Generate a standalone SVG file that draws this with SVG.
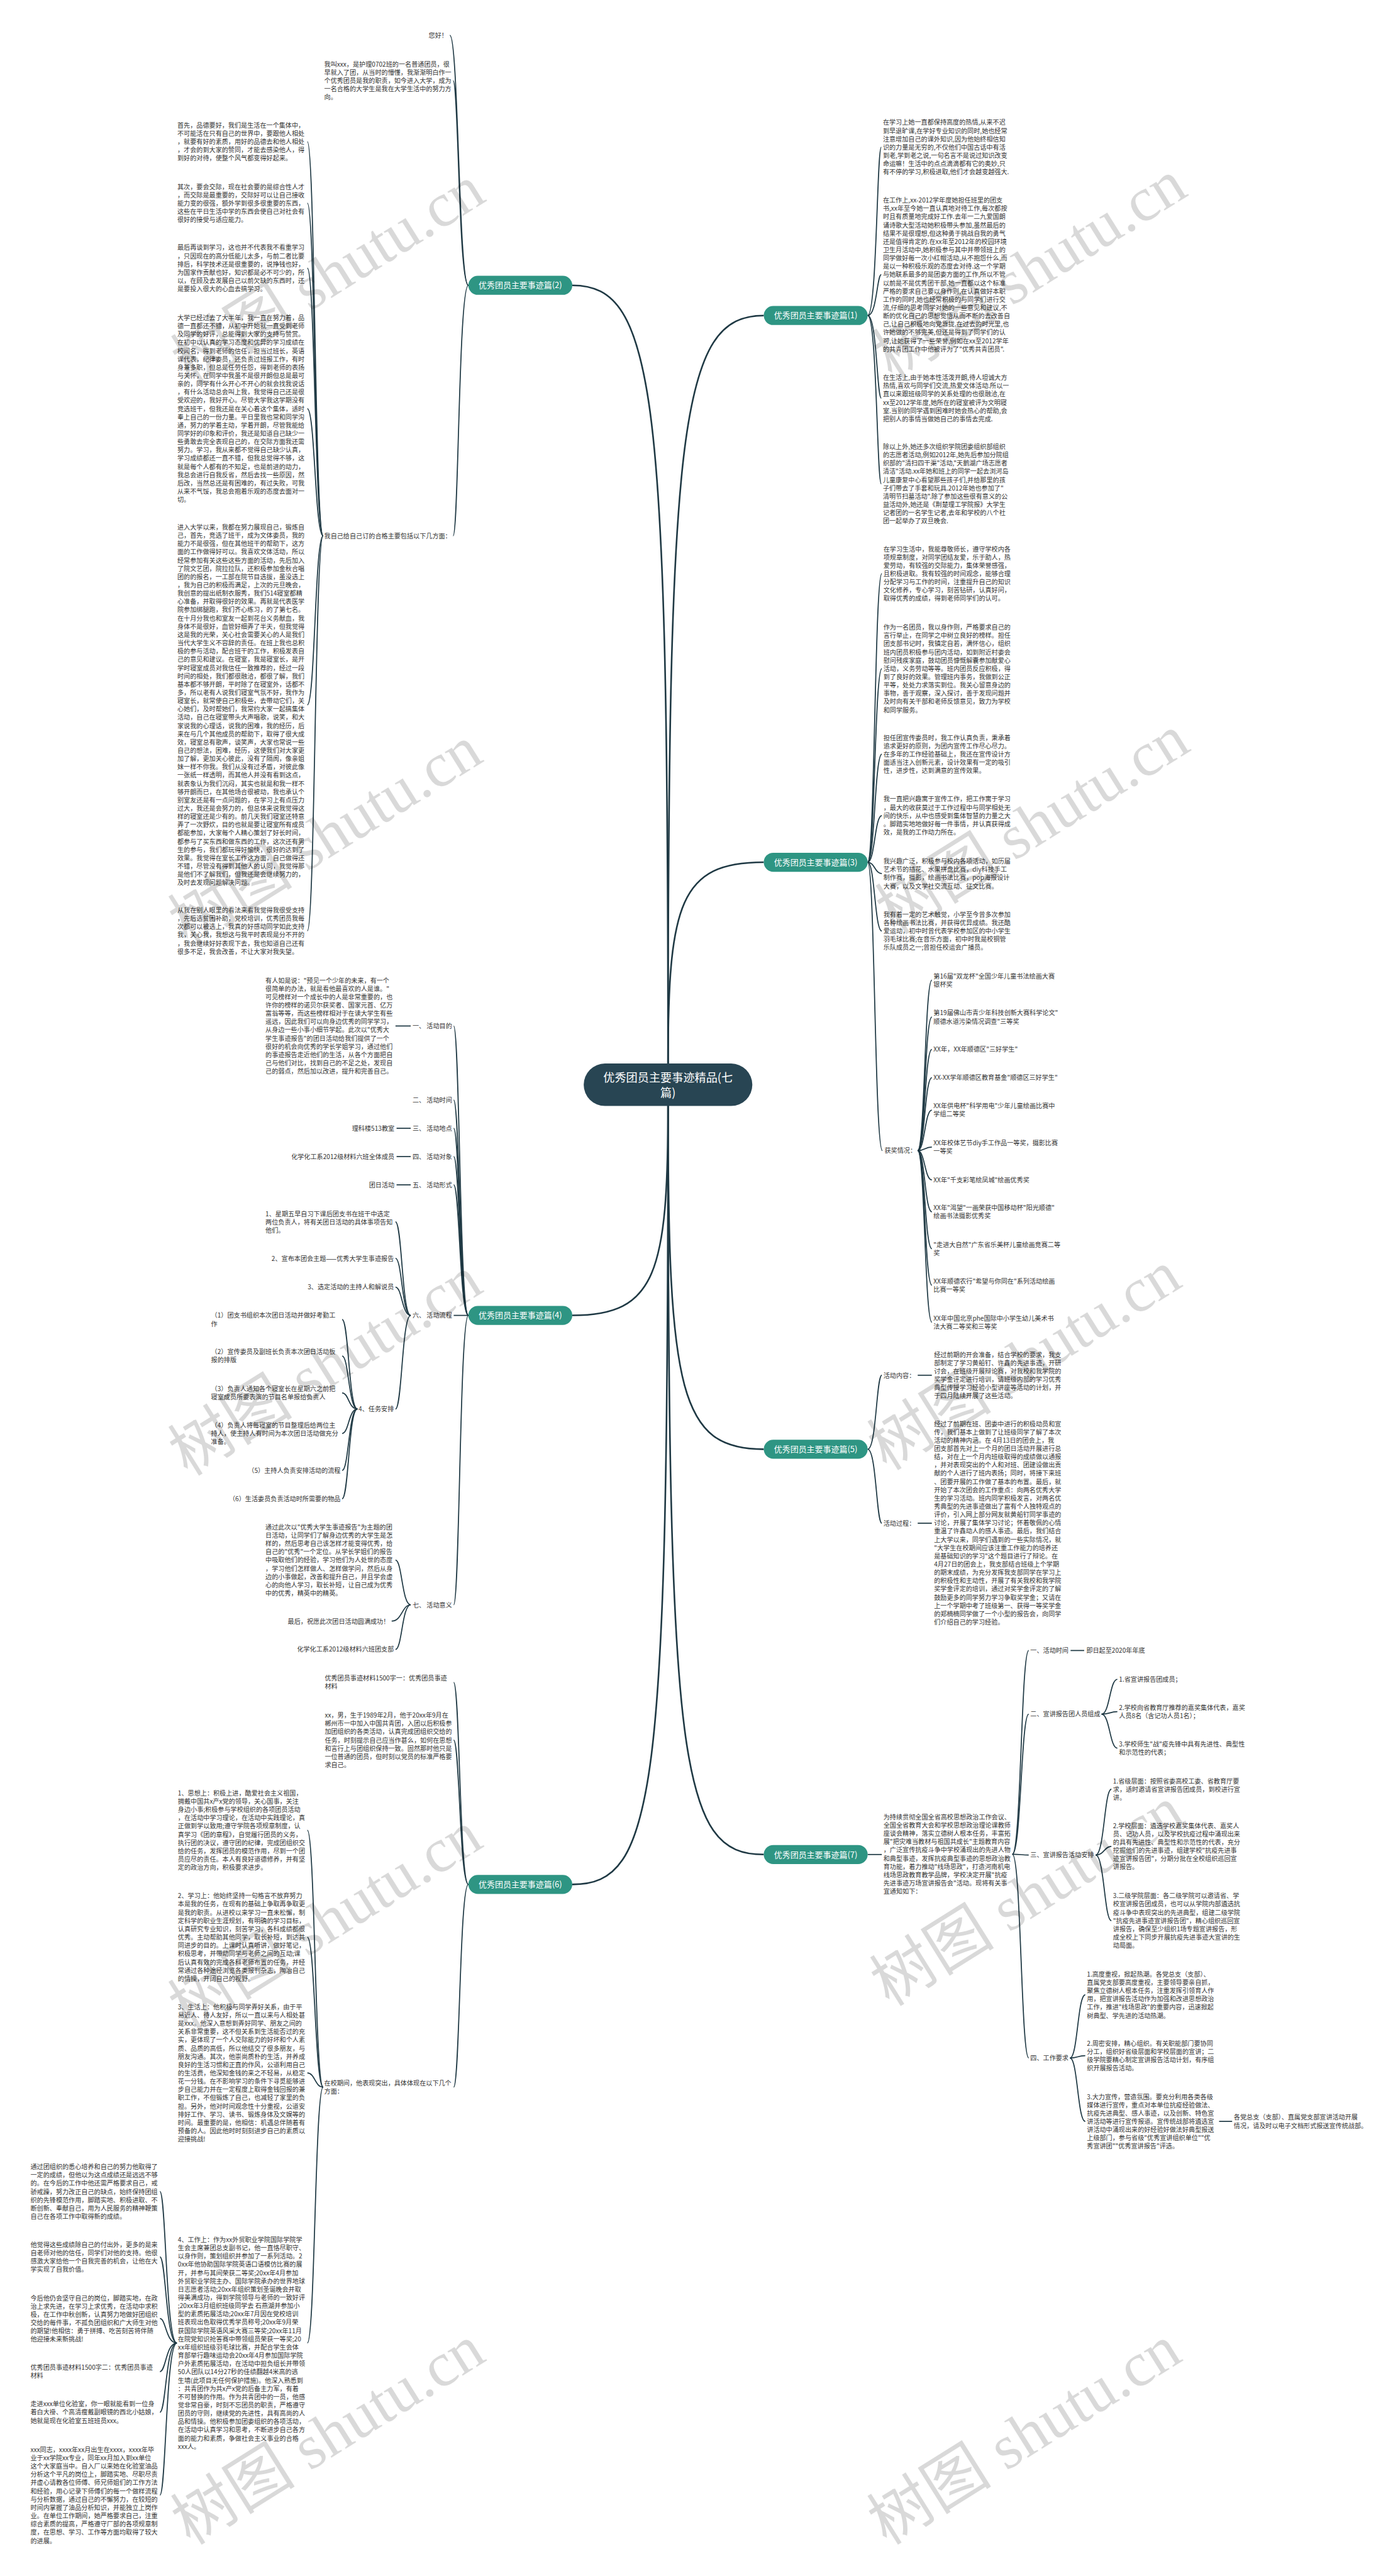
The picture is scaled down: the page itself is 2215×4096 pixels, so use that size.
<svg xmlns="http://www.w3.org/2000/svg" width="2215" height="4096" viewBox="0 0 2215 4096">
<style>
.t{font-family:"Noto Sans CJK SC","Noto Sans",sans-serif;font-size:11.7px;fill:#333}
.e{text-anchor:end}
.p{fill:#2e9583}
.pt{font-family:"Noto Sans CJK SC","Noto Sans",sans-serif;font-size:15px;fill:#fff;text-anchor:middle}
.ct{font-family:"Noto Sans CJK SC","Noto Sans",sans-serif;font-size:21px;fill:#fff;text-anchor:middle}
.l{fill:none;stroke:#1f3944;stroke-width:2}
.m{fill:none;stroke:#1f3944;stroke-width:3}
.wm{font-family:"Liberation Serif","Noto Sans CJK SC",serif;font-size:115px;fill:#000;fill-opacity:.15}
</style>
<rect width="2215" height="4096" fill="#fff"/>
<g transform="scale(0.865)">
<g id="connectors">
<path class="m" d="M1228,1957 C1228,780 1250,580 1404,580"/>
<path class="m" d="M1228,1957 C1228,724 1206,524.5 1052,524.5"/>
<path class="m" d="M1228,1957 C1228,1660 1250,1585 1404,1585"/>
<path class="m" d="M1228,2032 C1228,2340 1206,2418 1052,2418"/>
<path class="m" d="M1228,2032 C1228,2560 1250,2664 1404,2664"/>
<path class="m" d="M1228,2032 C1228,3300 1206,3464 1052,3464"/>
<path class="m" d="M1228,2032 C1228,3250 1250,3409 1404,3409"/>
<path class="l" d="M1595,580 C1612,580 1612,270.6 1620,270.6"/>
<path class="l" d="M1595,580 C1612,580 1612,504.8 1620,504.8"/>
<path class="l" d="M1595,580 C1612,580 1612,732 1620,732"/>
<path class="l" d="M1595,580 C1612,580 1612,889.4 1620,889.4"/>
<path class="l" d="M1595,1585 C1608,1585 1608,1054.6 1621,1054.6"/>
<path class="l" d="M1595,1585 C1608,1585 1608,1229 1621,1229"/>
<path class="l" d="M1595,1585 C1608,1585 1608,1386.4 1621,1386.4"/>
<path class="l" d="M1595,1585 C1608,1585 1608,1499.4 1621,1499.4"/>
<path class="l" d="M1595,1585 C1608,1585 1608,1605.8 1621,1605.8"/>
<path class="l" d="M1595,1585 C1608,1585 1608,1711.4 1621,1711.4"/>
<path class="l" d="M1595,1585 C1608,1585 1608,2115 1622,2115"/>
<path class="l" d="M1687,2115 C1700,2115 1700,1801.5 1713,1801.5"/>
<path class="l" d="M1687,2115 C1700,2115 1700,1869.5 1713,1869.5"/>
<path class="l" d="M1687,2115 C1700,2115 1700,1929 1713,1929"/>
<path class="l" d="M1687,2115 C1700,2115 1700,1981 1713,1981"/>
<path class="l" d="M1687,2115 C1700,2115 1700,2040.5 1713,2040.5"/>
<path class="l" d="M1687,2115 C1700,2115 1700,2108.5 1713,2108.5"/>
<path class="l" d="M1687,2115 C1700,2115 1700,2169 1713,2169"/>
<path class="l" d="M1687,2115 C1700,2115 1700,2227.5 1713,2227.5"/>
<path class="l" d="M1687,2115 C1700,2115 1700,2295.5 1713,2295.5"/>
<path class="l" d="M1687,2115 C1700,2115 1700,2362.5 1713,2362.5"/>
<path class="l" d="M1687,2115 C1700,2115 1700,2430.5 1713,2430.5"/>
<path class="l" d="M1595,2664 C1611,2664 1611,2528 1621,2528"/>
<path class="l" d="M1595,2664 C1611,2664 1611,2800 1621,2800"/>
<path class="l" d="M1687,2528 H1713"/>
<path class="l" d="M1687,2800 H1713"/>
<path class="l" d="M1595,3409 H1621"/>
<path class="l" d="M1861,3408.4 C1877,3408.4 1877,3034 1891,3034"/>
<path class="l" d="M1861,3408.4 C1877,3408.4 1877,3151 1891,3151"/>
<path class="l" d="M1861,3408.4 C1877,3408.4 1877,3410 1891,3410"/>
<path class="l" d="M1861,3408.4 C1877,3408.4 1877,3783 1891,3783"/>
<path class="l" d="M1968,3034 H1993"/>
<path class="l" d="M2025,3151 C2040,3151 2040,3087 2054,3087"/>
<path class="l" d="M2025,3151 C2040,3151 2040,3146.5 2054,3146.5"/>
<path class="l" d="M2025,3151 C2040,3151 2040,3213.5 2054,3213.5"/>
<path class="l" d="M2014,3410 C2030,3410 2030,3289 2043,3289"/>
<path class="l" d="M2014,3410 C2030,3410 2030,3394 2043,3394"/>
<path class="l" d="M2014,3410 C2030,3410 2030,3530.6 2043,3530.6"/>
<path class="l" d="M1967,3783 C1981,3783 1981,3667 1995,3667"/>
<path class="l" d="M1967,3783 C1981,3783 1981,3778.8 1995,3778.8"/>
<path class="l" d="M1967,3783 C1981,3783 1981,3899.6 1995,3899.6"/>
<path class="l" d="M2241,3899.6 H2265"/>
<path class="l" d="M861,524.5 C843,524.5 843,65 827,65"/>
<path class="l" d="M861,524.5 C843,524.5 843,148.4 833,148.4"/>
<path class="l" d="M861,524.5 C843,524.5 843,985 833,985"/>
<path class="l" d="M594,985 C579,985 579,260.4 565,260.4"/>
<path class="l" d="M594,985 C579,985 579,373.4 565,373.4"/>
<path class="l" d="M594,985 C579,985 579,493 565,493"/>
<path class="l" d="M594,985 C579,985 579,751.2 565,751.2"/>
<path class="l" d="M594,985 C579,985 579,1295.8 565,1295.8"/>
<path class="l" d="M594,985 C579,985 579,1711 565,1711"/>
<path class="l" d="M861,2418 C845,2418 845,1886 834,1886"/>
<path class="l" d="M861,2418 C845,2418 845,2022 834,2022"/>
<path class="l" d="M861,2418 C845,2418 845,2074 834,2074"/>
<path class="l" d="M861,2418 C845,2418 845,2126 834,2126"/>
<path class="l" d="M861,2418 C845,2418 845,2178 834,2178"/>
<path class="l" d="M861,2418 H834"/>
<path class="l" d="M861,2418 C845,2418 845,2950 834,2950"/>
<path class="l" d="M755,1886 H727"/>
<path class="l" d="M755,2074 H729"/>
<path class="l" d="M755,2126 H729"/>
<path class="l" d="M755,2178 H729"/>
<path class="l" d="M755,2418 C739,2418 739,2246 727,2246"/>
<path class="l" d="M755,2418 C739,2418 739,2313 727,2313"/>
<path class="l" d="M755,2418 C739,2418 739,2366 727,2366"/>
<path class="l" d="M755,2418 C739,2418 739,2590 727,2590"/>
<path class="l" d="M657,2590 C641,2590 641,2425.6 629,2425.6"/>
<path class="l" d="M657,2590 C641,2590 641,2492.6 629,2492.6"/>
<path class="l" d="M657,2590 C641,2590 641,2560.6 629,2560.6"/>
<path class="l" d="M657,2590 C641,2590 641,2635 629,2635"/>
<path class="l" d="M657,2590 C641,2590 641,2703 629,2703"/>
<path class="l" d="M657,2590 C641,2590 641,2755 629,2755"/>
<path class="l" d="M755,2950 C739,2950 739,2867.8 727,2867.8"/>
<path class="l" d="M755,2950 C739,2950 739,2980 720,2980"/>
<path class="l" d="M755,2950 C739,2950 739,3032 727,3032"/>
<path class="l" d="M861,3464 C845,3464 845,3092.6 834,3092.6"/>
<path class="l" d="M861,3464 C845,3464 845,3198.6 834,3198.6"/>
<path class="l" d="M861,3464 C845,3464 845,3836.6 834,3836.6"/>
<path class="l" d="M594,3836.6 C579,3836.6 579,3364.4 565,3364.4"/>
<path class="l" d="M594,3836.6 C579,3836.6 579,3561 565,3561"/>
<path class="l" d="M594,3836.6 C579,3836.6 579,3810.6 565,3810.6"/>
<path class="l" d="M594,3836.6 C579,3836.6 579,4307 565,4307"/>
<path class="l" d="M325,4307 C305,4307 305,4028.6 294,4028.6"/>
<path class="l" d="M325,4307 C305,4307 305,4148.8 294,4148.8"/>
<path class="l" d="M325,4307 C305,4307 305,4262 294,4262"/>
<path class="l" d="M325,4307 C305,4307 305,4359.6 294,4359.6"/>
<path class="l" d="M325,4307 C305,4307 305,4434.2 294,4434.2"/>
<path class="l" d="M325,4307 C305,4307 305,4586.6 294,4586.6"/>
</g>

<g id="center">
<rect x="1073" y="1955" width="310" height="78" rx="39" fill="#284553"/>
<text class="ct" x="1228" y="1988">优秀团员主要事迹精品(七</text>
<text class="ct" x="1228" y="2016">篇)</text>
</g>

<g id="branch1">
<rect class="p" x="1404" y="562.5" width="191" height="35" rx="17.5"/>
<text class="pt" x="1499.5" y="585.5">优秀团员主要事迹篇(1)</text>
<text class="t" x="1623" y="229.4"><tspan x="1623">在学习上她一直都保持高度的热情,从来不迟</tspan><tspan x="1623" dy="15.2">到早退旷课,在学好专业知识的同时,她也经常</tspan><tspan x="1623" dy="15.2">注意增加自己的课外知识,因为他始终相信知</tspan><tspan x="1623" dy="15.2">识的力量是无穷的,不仅他们中国古话中有活</tspan><tspan x="1623" dy="15.2">到老,学到老之说,一句名言不是说过知识改变</tspan><tspan x="1623" dy="15.2">命运嘛！生活中的点点滴滴都有它的奥妙,只</tspan><tspan x="1623" dy="15.2">有不停的学习,积极进取,他们才会越变越强大.</tspan></text>
<text class="t" x="1623" y="372.4"><tspan x="1623">在工作上,xx-2012学年度她担任班里的团支</tspan><tspan x="1623" dy="15.2">书,xx年至今她一直认真地对待工作,每次都按</tspan><tspan x="1623" dy="15.2">时且有质量地完成好工作.去年一二九爱国朗</tspan><tspan x="1623" dy="15.2">诵诗歌大型活动她积极带头参加,虽然最后的</tspan><tspan x="1623" dy="15.2">结果不是很理想,但这种勇于挑战自我的勇气</tspan><tspan x="1623" dy="15.2">还是值得肯定的.在xx年至2012年的校园环境</tspan><tspan x="1623" dy="15.2">卫生月活动中,她积极参与其中并带领班上的</tspan><tspan x="1623" dy="15.2">同学做好每一次小红帽活动,从不抱怨什么,而</tspan><tspan x="1623" dy="15.2">是以一种积极乐观的态度去对待.这一个学期</tspan><tspan x="1623" dy="15.2">与她联系最多的是团委方面的工作,所以不管</tspan><tspan x="1623" dy="15.2">以前是不是优秀团干部,她一直都以这个标准</tspan><tspan x="1623" dy="15.2">严格的要求自己要以身作则,在认真做好本职</tspan><tspan x="1623" dy="15.2">工作的同时,她也经常积极的与同学们进行交</tspan><tspan x="1623" dy="15.2">流,仔细的思考同学对她的一些意见和建议,不</tspan><tspan x="1623" dy="15.2">断的优化自己的思想觉悟从而不断的去改善自</tspan><tspan x="1623" dy="15.2">己,让自己积极地向党靠拢.在过去的时光里,也</tspan><tspan x="1623" dy="15.2">许她做的不够完美,但还是得到了同学们的认</tspan><tspan x="1623" dy="15.2">可,让她获得了一些荣誉,例如在xx至2012学年</tspan><tspan x="1623" dy="15.2">的共青团工作中他被评为了"优秀共青团员".</tspan></text>
<text class="t" x="1623" y="698.4"><tspan x="1623">在生活上,由于她本性活泼开朗,待人坦诚大方</tspan><tspan x="1623" dy="15.2">热情,喜欢与同学们交流,热爱文体活动.所以一</tspan><tspan x="1623" dy="15.2">直以来跟班级同学的关系处理的也很融洽,在</tspan><tspan x="1623" dy="15.2">xx至2012学年度,她所在的寝室被评为文明寝</tspan><tspan x="1623" dy="15.2">室.当别的同学遇到困难时她会热心的帮助,会</tspan><tspan x="1623" dy="15.2">把别人的事情当做她自己的事情去完成.</tspan></text>
<text class="t" x="1623" y="825.4"><tspan x="1623">除以上外,她还多次组织学院团委组织部组织</tspan><tspan x="1623" dy="15.2">的志愿者活动,例如2012年,她先后参加分院组</tspan><tspan x="1623" dy="15.2">织部的"清扫四干渠"活动,"天鹅湖广场志愿者</tspan><tspan x="1623" dy="15.2">清洁"活动.xx年她和班上的同学一起去浏河岛</tspan><tspan x="1623" dy="15.2">儿童康复中心看望那些孩子们,并给那里的孩</tspan><tspan x="1623" dy="15.2">子们带去了手套和玩具.2012年她也参加了"</tspan><tspan x="1623" dy="15.2">清明节扫墓活动".除了参加这些很有意义的公</tspan><tspan x="1623" dy="15.2">益活动外,她还是《荆楚理工学院报》大学生</tspan><tspan x="1623" dy="15.2">记者团的一名学生记者,去年和学校的八个社</tspan><tspan x="1623" dy="15.2">团一起举办了双旦晚会.</tspan></text>
</g>

<g id="branch3">
<rect class="p" x="1404" y="1567.5" width="191" height="35" rx="17.5"/>
<text class="pt" x="1499.5" y="1590.5">优秀团员主要事迹篇(3)</text>
<text class="t" x="1624" y="1013.4"><tspan x="1624">在学习生活中，我能尊敬师长，遵守学校内各</tspan><tspan x="1624" dy="15.2">项规章制度，对同学团结友爱，乐于助人，热</tspan><tspan x="1624" dy="15.2">爱劳动，有较强的交际能力，集体荣誉感强，</tspan><tspan x="1624" dy="15.2">且积极进取。我有较强的时间观念，能够合理</tspan><tspan x="1624" dy="15.2">分配学习与工作的时间，注重提升自己的知识</tspan><tspan x="1624" dy="15.2">文化修养，专心学习，刻苦钻研，认真好问，</tspan><tspan x="1624" dy="15.2">取得优秀的成绩，得到老师同学们的认可。</tspan></text>
<text class="t" x="1624" y="1157.4"><tspan x="1624">作为一名团员，我以身作则，严格要求自己的</tspan><tspan x="1624" dy="15.2">言行举止，在同学之中树立良好的榜样。担任</tspan><tspan x="1624" dy="15.2">团支部书记时，我镇定自若，满怀信心，组织</tspan><tspan x="1624" dy="15.2">班内团员积极参与团内活动，如到附近村委会</tspan><tspan x="1624" dy="15.2">慰问残疾家庭，鼓动团员慷慨解囊参加献爱心</tspan><tspan x="1624" dy="15.2">活动，义务劳动等等。班内团员反应积极，得</tspan><tspan x="1624" dy="15.2">到了良好的效果。管理班内事务，我做到公正</tspan><tspan x="1624" dy="15.2">平等，处处力求落实到位。我关心留意身边的</tspan><tspan x="1624" dy="15.2">事物，善于观察，深入探讨，善于发现问题并</tspan><tspan x="1624" dy="15.2">及时向有关干部和老师反馈意见，致力为学校</tspan><tspan x="1624" dy="15.2">和同学服务。</tspan></text>
<text class="t" x="1624" y="1360.4"><tspan x="1624">担任团宣传委员时，我工作认真负责，秉承着</tspan><tspan x="1624" dy="15.2">追求更好的原则，为团内宣传工作尽心尽力。</tspan><tspan x="1624" dy="15.2">在多年的工作经验基础上，我还在宣传设计方</tspan><tspan x="1624" dy="15.2">面适当注入创新元素，设计效果有一定的吸引</tspan><tspan x="1624" dy="15.2">性，进步性，达到满意的宣传效果。</tspan></text>
<text class="t" x="1624" y="1473.4"><tspan x="1624">我一直把兴趣寓于宣传工作，把工作寓于学习</tspan><tspan x="1624" dy="15.2">，最大的收获莫过于工作过程中与同学相处无</tspan><tspan x="1624" dy="15.2">间的快乐，从中也感受到集体智慧的力量之大</tspan><tspan x="1624" dy="15.2">。脚踏实地地做好每一件事情，并认真获得成</tspan><tspan x="1624" dy="15.2">效，是我的工作动力所在。</tspan></text>
<text class="t" x="1624" y="1587.4"><tspan x="1624">我兴趣广泛，积极参与校内各项活动，如历届</tspan><tspan x="1624" dy="15.2">艺术节的插花、水果拼盘比赛，diy科技手工</tspan><tspan x="1624" dy="15.2">制作赛，摄影，绘画书法比赛，pop海报设计</tspan><tspan x="1624" dy="15.2">大赛，以及文学社交流互动、征文比赛。</tspan></text>
<text class="t" x="1624" y="1685.4"><tspan x="1624">我有着一定的艺术触觉，小学至今曾多次参加</tspan><tspan x="1624" dy="15.2">各种绘画书法比赛，并获得优异成绩。我还酷</tspan><tspan x="1624" dy="15.2">爱运动，初中时曾代表学校参加区的中小学生</tspan><tspan x="1624" dy="15.2">羽毛球比赛;在音乐方面，初中时我是校铜管</tspan><tspan x="1624" dy="15.2">乐队成员之一;曾担任校运会广播员。</tspan></text>
<text class="t" x="1626" y="2119.4">获奖情况：</text>
<text class="t" x="1716" y="1798.4"><tspan x="1716">第16届"双龙杯"全国少年儿童书法绘画大赛</tspan><tspan x="1716" dy="15.2">银杯奖</tspan></text>
<text class="t" x="1716" y="1866.4"><tspan x="1716">第19届佛山市青少年科技创新大赛科学论文"</tspan><tspan x="1716" dy="15.2">顺德水道污染情况调查"三等奖</tspan></text>
<text class="t" x="1716" y="1933.4">XX年，XX年顺德区"三好学生"</text>
<text class="t" x="1716" y="1985.4">XX-XX学年顺德区教育基金"顺德区三好学生"</text>
<text class="t" x="1716" y="2037.4"><tspan x="1716">XX年供电杯"科学用电"少年儿童绘画比赛中</tspan><tspan x="1716" dy="15.2">学组二等奖</tspan></text>
<text class="t" x="1716" y="2105.4"><tspan x="1716">XX年校体艺节diy手工作品一等奖，摄影比赛</tspan><tspan x="1716" dy="15.2">一等奖</tspan></text>
<text class="t" x="1716" y="2173.4">XX年"千支彩笔绘凤城"绘画优秀奖</text>
<text class="t" x="1716" y="2224.4"><tspan x="1716">XX年"渴望"一画荣获中国移动杯"阳光顺德"</tspan><tspan x="1716" dy="15.2">绘画书法摄影优秀奖</tspan></text>
<text class="t" x="1716" y="2292.4"><tspan x="1716">"走进大自然"广东省乐美杯儿童绘画竞赛二等</tspan><tspan x="1716" dy="15.2">奖</tspan></text>
<text class="t" x="1716" y="2359.4"><tspan x="1716">XX年顺德农行"希望与你同在"系列活动绘画</tspan><tspan x="1716" dy="15.2">比赛一等奖</tspan></text>
<text class="t" x="1716" y="2427.4"><tspan x="1716">XX年中国北京phe国际中小学生幼儿美术书</tspan><tspan x="1716" dy="15.2">法大赛二等奖和三等奖</tspan></text>
</g>

<g id="branch5">
<rect class="p" x="1404" y="2646.5" width="191" height="35" rx="17.5"/>
<text class="pt" x="1499.5" y="2669.5">优秀团员主要事迹篇(5)</text>
<text class="t" x="1624" y="2532.4">活动内容：</text>
<text class="t" x="1624" y="2804.4">活动过程：</text>
<text class="t" x="1717" y="2494.4"><tspan x="1717">经过前期的开会准备，结合学校的要求，我支</tspan><tspan x="1717" dy="15.2">部制定了学习黄船钉、许鑫的先进事迹，开研</tspan><tspan x="1717" dy="15.2">讨会，在班级开展辩论赛，对我校和我学院的</tspan><tspan x="1717" dy="15.2">奖学金评定进行培训，请班级内部的学习优秀</tspan><tspan x="1717" dy="15.2">典型传授学习经验小型讲座等活动的计划，并</tspan><tspan x="1717" dy="15.2">于四月陆续开展了这些活动。</tspan></text>
<text class="t" x="1717" y="2621.4"><tspan x="1717">经过了前期在班、团委中进行的积极动员和宣</tspan><tspan x="1717" dy="15.2">传，我们基本上做到了让班级同学了解了本次</tspan><tspan x="1717" dy="15.2">活动的精神内涵。在 4月13日的团会上，我</tspan><tspan x="1717" dy="15.2">团支部首先对上一个月的团日活动开展进行总</tspan><tspan x="1717" dy="15.2">结，对在上一个月内班级取得的成绩做以通报</tspan><tspan x="1717" dy="15.2">，并对表现突出的个人和对班、团建设做出贡</tspan><tspan x="1717" dy="15.2">献的个人进行了班内表扬；同时，将接下来班</tspan><tspan x="1717" dy="15.2">、团要开展的工作做了基本的布置。最后，就</tspan><tspan x="1717" dy="15.2">开始了本次团会的工作重点：向两名优秀大学</tspan><tspan x="1717" dy="15.2">生的学习活动。班内同学积极发言，对两名优</tspan><tspan x="1717" dy="15.2">秀典型的先进事迹做出了富有个人独特观点的</tspan><tspan x="1717" dy="15.2">评价，引入网上部分网友就黄船钉同学事迹的</tspan><tspan x="1717" dy="15.2">讨论，开展了集体学习讨论；怀着敬佩的心情</tspan><tspan x="1717" dy="15.2">重温了许鑫动人的感人事迹。最后，我们结合</tspan><tspan x="1717" dy="15.2">上大学以来，同学们遇到的一些实际情况，就</tspan><tspan x="1717" dy="15.2">"大学生在校期间应该注重工作能力的培养还</tspan><tspan x="1717" dy="15.2">是基础知识的学习"这个题目进行了辩论。在</tspan><tspan x="1717" dy="15.2">4月27日的团会上，我支部结合班级上个学期</tspan><tspan x="1717" dy="15.2">的期末成绩，为充分发挥我支部同学在学习上</tspan><tspan x="1717" dy="15.2">的积极性和主动性，开展了有关我校和我学院</tspan><tspan x="1717" dy="15.2">奖学金评定的培训，通过对奖学金评定的了解</tspan><tspan x="1717" dy="15.2">鼓励更多的同学努力学习争取奖学金；又请在</tspan><tspan x="1717" dy="15.2">上一个学期中考了班级第一、获得一等奖学金</tspan><tspan x="1717" dy="15.2">的郑楠楠同学做了一个小型的报告会，向同学</tspan><tspan x="1717" dy="15.2">们介绍自己的学习经验。</tspan></text>
</g>

<g id="branch7">
<rect class="p" x="1404" y="3391.5" width="191" height="35" rx="17.5"/>
<text class="pt" x="1499.5" y="3414.5">优秀团员主要事迹篇(7)</text>
<text class="t" x="1624" y="3344.4"><tspan x="1624">为持续贯彻全国全省高校思想政治工作会议、</tspan><tspan x="1624" dy="15.2">全国全省教育大会和学校思想政治理论课教师</tspan><tspan x="1624" dy="15.2">座谈会精神，落实立德树人根本任务，丰富拓</tspan><tspan x="1624" dy="15.2">展"把灾难当教材与祖国共成长"主题教育内容</tspan><tspan x="1624" dy="15.2">，广泛宣传抗疫斗争中学校涌现出的先进人物</tspan><tspan x="1624" dy="15.2">和典型事迹，发挥抗疫典型事迹的思想政治教</tspan><tspan x="1624" dy="15.2">育功能，着力推动"线场思政"，打造河南机电</tspan><tspan x="1624" dy="15.2">线场思政教育教学品牌，学校决定开展"抗疫</tspan><tspan x="1624" dy="15.2">先进事迹万场宣讲报告会"活动。现将有关事</tspan><tspan x="1624" dy="15.2">宜通知如下：</tspan></text>
<text class="t" x="1894" y="3038.4">一、活动时间</text>
<text class="t" x="1997" y="3038.4">即日起至2020年年底</text>
<text class="t" x="1894" y="3155.4">二、宣讲报告团人员组成</text>
<text class="t" x="2057" y="3091.4">1.省宣讲报告团成员；</text>
<text class="t" x="2057" y="3143.4"><tspan x="2057">2.学校向省教育厅推荐的嘉奖集体代表，嘉奖</tspan><tspan x="2057" dy="15.2">人员8名（含记功人员1名）；</tspan></text>
<text class="t" x="2057" y="3210.4"><tspan x="2057">3.学校师生"战"疫先锋中具有先进性、典型性</tspan><tspan x="2057" dy="15.2">和示范性的代表；</tspan></text>
<text class="t" x="1894" y="3414.4">三、宣讲报告活动安排</text>
<text class="t" x="2046" y="3278.4"><tspan x="2046">1.省级层面：按照省委高校工委、省教育厅要</tspan><tspan x="2046" dy="15.2">求，适时邀请省宣讲报告团成员，到校进行宣</tspan><tspan x="2046" dy="15.2">讲。</tspan></text>
<text class="t" x="2046" y="3360.4"><tspan x="2046">2.学校层面：遴选学校嘉奖集体代表、嘉奖人</tspan><tspan x="2046" dy="15.2">员、记功人员，以及学校抗疫过程中涌现出来</tspan><tspan x="2046" dy="15.2">的具有先进性、典型性和示范性的代表，充分</tspan><tspan x="2046" dy="15.2">挖掘他们的先进事迹，组建学校"抗疫先进事</tspan><tspan x="2046" dy="15.2">迹宣讲报告团"，分期分批在全校组织巡回宣</tspan><tspan x="2046" dy="15.2">讲报告。</tspan></text>
<text class="t" x="2046" y="3489.4"><tspan x="2046">3.二级学院层面：各二级学院可以邀请省、学</tspan><tspan x="2046" dy="15.2">校宣讲报告团成员，也可以从学院内部遴选抗</tspan><tspan x="2046" dy="15.2">疫斗争中表现突出的先进典型，组建二级学院</tspan><tspan x="2046" dy="15.2">"抗疫先进事迹宣讲报告团"，精心组织巡回宣</tspan><tspan x="2046" dy="15.2">讲报告，确保至少组织1场专题宣讲报告，形</tspan><tspan x="2046" dy="15.2">成全校上下同步开展抗疫先进事迹大宣讲的生</tspan><tspan x="2046" dy="15.2">动局面。</tspan></text>
<text class="t" x="1894" y="3787.4">四、工作要求</text>
<text class="t" x="1998" y="3633.4"><tspan x="1998">1.高度重视，掀起热潮。各党总支（支部）、</tspan><tspan x="1998" dy="15.2">直属党支部要高度重视，主要领导要亲自抓，</tspan><tspan x="1998" dy="15.2">聚焦立德树人根本任务，注重发挥引领育人作</tspan><tspan x="1998" dy="15.2">用，把宣讲报告活动作为加强和改进思想政治</tspan><tspan x="1998" dy="15.2">工作，推进"线场思政"的重要内容，迅速掀起</tspan><tspan x="1998" dy="15.2">树典型、学先进的活动热潮。</tspan></text>
<text class="t" x="1998" y="3760.4"><tspan x="1998">2.周密安排，精心组织。有关职能部门要协同</tspan><tspan x="1998" dy="15.2">分工，组织好省级层面和学校层面的宣讲；二</tspan><tspan x="1998" dy="15.2">级学院要精心制定宣讲报告活动计划，有序组</tspan><tspan x="1998" dy="15.2">织开展报告活动。</tspan></text>
<text class="t" x="1998" y="3858.4"><tspan x="1998">3.大力宣传，营造氛围。要充分利用各类各级</tspan><tspan x="1998" dy="15.2">媒体进行宣传，重点对本单位抗疫经验做法、</tspan><tspan x="1998" dy="15.2">抗疫先进典型、感人事迹，以及创新、特色宣</tspan><tspan x="1998" dy="15.2">讲活动等进行宣传报道。宣传统战部将遴选宣</tspan><tspan x="1998" dy="15.2">讲活动中涌现出来的好经验好做法好典型报送</tspan><tspan x="1998" dy="15.2">上级部门，参与省级"优秀宣讲组织单位""优</tspan><tspan x="1998" dy="15.2">秀宣讲团""优秀宣讲报告"评选。</tspan></text>
<text class="t" x="2268" y="3896.4"><tspan x="2268">各党总支（支部）、直属党支部宣讲活动开展</tspan><tspan x="2268" dy="15.2">情况，请及时以电子文档形式报送宣传统战部。</tspan></text>
</g>

<g id="branch2">
<rect class="p" x="861" y="507" width="191" height="35" rx="17.5"/>
<text class="pt" x="956.5" y="530">优秀团员主要事迹篇(2)</text>
<text class="t e" x="823" y="69.4">您好！</text>
<text class="t" x="596" y="122.4"><tspan x="596">我叫xxx，是护理0702班的一名普通团员，很</tspan><tspan x="596" dy="15.2">早就入了团，从当时的懵懂，我渐渐明白作一</tspan><tspan x="596" dy="15.2">个优秀团员是我的职责，如今进入大学，成为</tspan><tspan x="596" dy="15.2">一名合格的大学生是我在大学生活中的努力方</tspan><tspan x="596" dy="15.2">向。</tspan></text>
<text class="t" x="596" y="989.4">我自己给自己订的合格主要包括以下几方面：</text>
<text class="t" x="326" y="234.4"><tspan x="326">首先，品德要好，我们是生活在一个集体中，</tspan><tspan x="326" dy="15.2">不可能活在只有自己的世界中，要跟他人相处</tspan><tspan x="326" dy="15.2">，就要有好的素质，用好的品德去和他人相处</tspan><tspan x="326" dy="15.2">，才会的到大家的赞同，才能去感染他人，得</tspan><tspan x="326" dy="15.2">到好的对待，使整个风气都变得好起来。</tspan></text>
<text class="t" x="326" y="347.4"><tspan x="326">其次，要会交际，现在社会要的是综合性人才</tspan><tspan x="326" dy="15.2">，而交际是最重要的，交际好可以让自己接收</tspan><tspan x="326" dy="15.2">能力变的很强，额外学到很多很重要的东西，</tspan><tspan x="326" dy="15.2">这些在平日生活中学的东西会使自己对社会有</tspan><tspan x="326" dy="15.2">很好的接受与适应能力。</tspan></text>
<text class="t" x="326" y="459.4"><tspan x="326">最后再谈到学习，这也并不代表我不看重学习</tspan><tspan x="326" dy="15.2">，只因现在的高分低能儿太多，与前二者比要</tspan><tspan x="326" dy="15.2">排后，科学技术还是很重要的，说挣钱也好，</tspan><tspan x="326" dy="15.2">为国家作贡献也好，知识都是必不可少的，所</tspan><tspan x="326" dy="15.2">以，在顾及去发展自己以前欠缺的东西时，还</tspan><tspan x="326" dy="15.2">是要投入很大的心血去搞学习。</tspan></text>
<text class="t" x="326" y="588.4"><tspan x="326">大学已经过去了大半年，我一直在努力着，品</tspan><tspan x="326" dy="15.2">德一直都还不错，从初中开始就一直受到老师</tspan><tspan x="326" dy="15.2">及同学的好评，总能得到大家的支持与赞赏。</tspan><tspan x="326" dy="15.2">在初中以认真的学习态度和优异的学习成绩在</tspan><tspan x="326" dy="15.2">校闻名，得到老师的信任，担当过班长，英语</tspan><tspan x="326" dy="15.2">课代表，纪律委员，还负责过班报工作，有时</tspan><tspan x="326" dy="15.2">身兼多职，但总是任劳任怨，得到老师的表扬</tspan><tspan x="326" dy="15.2">与关怀，在同学中我虽不是很开朗但总是最可</tspan><tspan x="326" dy="15.2">亲的，同学有什么开心不开心的就会找我说话</tspan><tspan x="326" dy="15.2">，有什么活动总会叫上我，我觉得自己还是很</tspan><tspan x="326" dy="15.2">受欢迎的，我好开心。尽管大学我这学期没有</tspan><tspan x="326" dy="15.2">竞选班干，但我还是在关心着这个集体，适时</tspan><tspan x="326" dy="15.2">奉上自己的一份力量。平日里我也常和同学沟</tspan><tspan x="326" dy="15.2">通，努力的学着主动，学着开朗，尽管我能给</tspan><tspan x="326" dy="15.2">同学好的印象和评价，我还是知道自己缺少一</tspan><tspan x="326" dy="15.2">些勇敢去完全表现自己的，在交际方面我还需</tspan><tspan x="326" dy="15.2">努力。学习，我从来都不觉得自己缺少认真，</tspan><tspan x="326" dy="15.2">学习成绩都还一直不错，但我总觉得不够，这</tspan><tspan x="326" dy="15.2">就是每个人都有的不知足，也是前进的动力，</tspan><tspan x="326" dy="15.2">我总会进行自我反省，然后去找一些原因，然</tspan><tspan x="326" dy="15.2">后改，当然总还是有困难的，有过失败，可我</tspan><tspan x="326" dy="15.2">从来不气馁，我总会抱着乐观的态度去面对一</tspan><tspan x="326" dy="15.2">切。</tspan></text>
<text class="t" x="326" y="973.4"><tspan x="326">进入大学以来，我都在努力展现自己，锻炼自</tspan><tspan x="326" dy="15.2">己，首先，竞选了班干，成为文体委员，我的</tspan><tspan x="326" dy="15.2">能力不是很强，但在其他班干的帮助下，这方</tspan><tspan x="326" dy="15.2">面的工作做得好可以。我喜欢文体活动，所以</tspan><tspan x="326" dy="15.2">经常参加有关这些这些方面的活动，先后加入</tspan><tspan x="326" dy="15.2">了院文艺团，院拉拉队，还积极参加金秋合唱</tspan><tspan x="326" dy="15.2">团的的报名，一工部在院节目选拔，虽没选上</tspan><tspan x="326" dy="15.2">，我为自己的积极而满足，上次的元旦晚会，</tspan><tspan x="326" dy="15.2">我创意的提出纸制衣服秀，我们514寝室都精</tspan><tspan x="326" dy="15.2">心准备，并取得很好的效果。再就是代表医学</tspan><tspan x="326" dy="15.2">院参加绑腿跑，我们齐心练习，的了第七名。</tspan><tspan x="326" dy="15.2">在十月分我也和室友一起到花台义务献血，我</tspan><tspan x="326" dy="15.2">身体不是很好，血管好细弄了半天，但我觉得</tspan><tspan x="326" dy="15.2">这是我的光荣，关心社会需要关心的人是我们</tspan><tspan x="326" dy="15.2">当代大学生义不容辞的责任。在班上我也总积</tspan><tspan x="326" dy="15.2">极的参与活动，配合班干的工作，积极发表自</tspan><tspan x="326" dy="15.2">己的意见和建议。在寝室，我是寝室长，是开</tspan><tspan x="326" dy="15.2">学时寝室成员对我信任一致推荐的，经过一段</tspan><tspan x="326" dy="15.2">时间的相处，我们都很融洽，都很了解，我们</tspan><tspan x="326" dy="15.2">基本都不够开朗，平时除了在寝室外，话都不</tspan><tspan x="326" dy="15.2">多，所以老有人说我们寝室气氛不好，我作为</tspan><tspan x="326" dy="15.2">寝室长，就常使自己积极些，去带动它们，关</tspan><tspan x="326" dy="15.2">心她们，及时帮她们，我常约大家一起搞集体</tspan><tspan x="326" dy="15.2">活动，自己在寝室带头大声唱歌，说笑，和大</tspan><tspan x="326" dy="15.2">家说我的心理话，说我的困难，我的经历，后</tspan><tspan x="326" dy="15.2">来在与几个其他成员的帮助下，取得了很大成</tspan><tspan x="326" dy="15.2">效，寝室总有歌声，谈笑声，大家也常说一些</tspan><tspan x="326" dy="15.2">自己的想法，困难，经历，这使我们对大家更</tspan><tspan x="326" dy="15.2">加了解，更加关心彼此，没有了隔阂，像亲姐</tspan><tspan x="326" dy="15.2">妹一样不你我。我们从没有过矛盾，对彼此像</tspan><tspan x="326" dy="15.2">一张纸一样透明，而其他人并没有看到这点，</tspan><tspan x="326" dy="15.2">就表象认为我们沉闷，其实也就是和我一样不</tspan><tspan x="326" dy="15.2">够开朗而已，在其他场合很被动，我也承认个</tspan><tspan x="326" dy="15.2">别室友还是有一点问题的，在学习上有点压力</tspan><tspan x="326" dy="15.2">过大，我还是会努力的，但总体来说我觉得这</tspan><tspan x="326" dy="15.2">样的寝室还是少有的。前几天我们寝室还特意</tspan><tspan x="326" dy="15.2">弄了一次野炊，目的也就是要让寝室所有成员</tspan><tspan x="326" dy="15.2">都能参加，大家每个人精心策划了好长时间，</tspan><tspan x="326" dy="15.2">都参与了买东西和做东西的工作，这次还有男</tspan><tspan x="326" dy="15.2">生的参与，我们都玩得好愉快，很好的达到了</tspan><tspan x="326" dy="15.2">效果。我觉得在室长工作这方面，自己做得还</tspan><tspan x="326" dy="15.2">不错，尽管没有得到其他人的认同，我觉得那</tspan><tspan x="326" dy="15.2">是他们不了解我们，但我还是会继续努力的，</tspan><tspan x="326" dy="15.2">及时去发现问题解决问题。</tspan></text>
<text class="t" x="326" y="1677.4"><tspan x="326">从我在别人眼里的看法来看我觉得我很受支持</tspan><tspan x="326" dy="15.2">，先后选贫困补助，党校培训，优秀团员我每</tspan><tspan x="326" dy="15.2">次都可以被选上，我真的好感动同学如此支持</tspan><tspan x="326" dy="15.2">我，关心我，我想这与我平时表现是分不开的</tspan><tspan x="326" dy="15.2">，我会继续好好表现下去，我也知道自己还有</tspan><tspan x="326" dy="15.2">很多不足，我会改善，不让大家对我失望。</tspan></text>
</g>

<g id="branch4">
<rect class="p" x="861" y="2400.5" width="191" height="35" rx="17.5"/>
<text class="pt" x="956.5" y="2423.5">优秀团员主要事迹篇(4)</text>
<text class="t e" x="831" y="1890.4">一、 活动目的</text>
<text class="t" x="488" y="1806.4"><tspan x="488">有人如是说："预见一个少年的未来，有一个</tspan><tspan x="488" dy="15.2">很简单的办法，就是看他最喜欢的人是谁。"</tspan><tspan x="488" dy="15.2">可见榜样对一个成长中的人是非常重要的，也</tspan><tspan x="488" dy="15.2">许你的榜样的诺贝尔获奖者、国家元首、亿万</tspan><tspan x="488" dy="15.2">富翁等等，而这些榜样相对于在读大学生有些</tspan><tspan x="488" dy="15.2">遥远，因此我们可以向身边优秀的同学学习，</tspan><tspan x="488" dy="15.2">从身边一些小事小细节学起。此次以"优秀大</tspan><tspan x="488" dy="15.2">学生事迹报告"的团日活动给我们提供了一个</tspan><tspan x="488" dy="15.2">很好的机会向优秀的学长学姐学习，通过他们</tspan><tspan x="488" dy="15.2">的事迹报告走近他们的生活，从各个方面把自</tspan><tspan x="488" dy="15.2">己与他们对比，找到自己的不足之处，发现自</tspan><tspan x="488" dy="15.2">己的弱点，然后加以改进，提升和完善自己。</tspan></text>
<text class="t e" x="831" y="2026.4">二、 活动时间</text>
<text class="t e" x="831" y="2078.4">三、 活动地点</text>
<text class="t e" x="725" y="2078.4">理科楼513教室</text>
<text class="t e" x="831" y="2130.4">四、 活动对象</text>
<text class="t e" x="725" y="2130.4">化学化工系2012级材料六班全体成员</text>
<text class="t e" x="831" y="2182.4">五、 活动形式</text>
<text class="t e" x="725" y="2182.4">团日活动</text>
<text class="t e" x="831" y="2422.4">六、 活动流程</text>
<text class="t" x="488" y="2235.4"><tspan x="488">1、星期五早自习下课后团支书在班干中选定</tspan><tspan x="488" dy="15.2">两位负责人，将有关团日活动的具体事项告知</tspan><tspan x="488" dy="15.2">他们。</tspan></text>
<text class="t e" x="724" y="2317.4">2、宣布本团会主题——优秀大学生事迹报告</text>
<text class="t e" x="724" y="2370.4">3、选定活动的主持人和解说员</text>
<text class="t e" x="724" y="2594.4">4、任务安排</text>
<text class="t" x="388" y="2422.4"><tspan x="388">（1）团支书组织本次团日活动并做好考勤工</tspan><tspan x="388" dy="15.2">作</tspan></text>
<text class="t" x="388" y="2489.4"><tspan x="388">（2）宣传委员及副班长负责本次团日活动板</tspan><tspan x="388" dy="15.2">报的排版</tspan></text>
<text class="t" x="388" y="2557.4"><tspan x="388">（3）负责人通知各个寝室长在星期六之前把</tspan><tspan x="388" dy="15.2">寝室成员所要表演的节目名单报给负责人</tspan></text>
<text class="t" x="388" y="2624.4"><tspan x="388">（4）负责人将每寝室的节目整理后给两位主</tspan><tspan x="388" dy="15.2">持人，使主持人有时间为本次团日活动做充分</tspan><tspan x="388" dy="15.2">准备。</tspan></text>
<text class="t e" x="626" y="2707.4">（5）主持人负责安排活动的流程</text>
<text class="t e" x="626" y="2759.4">（6）生活委员负责活动时所需要的物品</text>
<text class="t e" x="831" y="2954.4">七、 活动意义</text>
<text class="t" x="488" y="2811.4"><tspan x="488">通过此次以"优秀大学生事迹报告"为主题的团</tspan><tspan x="488" dy="15.2">日活动，让同学们了解身边优秀的大学生是怎</tspan><tspan x="488" dy="15.2">样的，然后思考自己该怎样才能变得优秀，给</tspan><tspan x="488" dy="15.2">自己的"优秀"一个定位。从学长学姐们的报告</tspan><tspan x="488" dy="15.2">中吸取他们的经验，学习他们为人处世的态度</tspan><tspan x="488" dy="15.2">，学习他们怎样做人、怎样做学问，然后从身</tspan><tspan x="488" dy="15.2">边的小事做起，改善和提升自己，并且学会虚</tspan><tspan x="488" dy="15.2">心的向他人学习，取长补短，让自己成为优秀</tspan><tspan x="488" dy="15.2">中的优秀，精英中的精英。</tspan></text>
<text class="t e" x="716" y="2984.4">最后，祝愿此次团日活动圆满成功！</text>
<text class="t e" x="724" y="3036.4">化学化工系2012级材料六班团支部</text>
</g>

<g id="branch6">
<rect class="p" x="861" y="3446.5" width="191" height="35" rx="17.5"/>
<text class="pt" x="956.5" y="3469.5">优秀团员主要事迹篇(6)</text>
<text class="t" x="597" y="3089.4"><tspan x="597">优秀团员事迹材料1500字一：优秀团员事迹</tspan><tspan x="597" dy="15.2">材料</tspan></text>
<text class="t" x="597" y="3157.4"><tspan x="597">xx，男，生于1989年2月，他于20xx年9月在</tspan><tspan x="597" dy="15.2">郴州市一中加入中国共青团，入团以后积极参</tspan><tspan x="597" dy="15.2">加团组织的各类活动，认真完成团组织交给的</tspan><tspan x="597" dy="15.2">任务，时刻提示自己应当作甚么，如何在思想</tspan><tspan x="597" dy="15.2">和言行上与团组织保持一致。固然那时他只是</tspan><tspan x="597" dy="15.2">一位普通的团员，但时刻以党员的标准严格要</tspan><tspan x="597" dy="15.2">求自己。</tspan></text>
<text class="t" x="596" y="3833.4"><tspan x="596">在校期间，他表现突出，具体体现在以下几个</tspan><tspan x="596" dy="15.2">方面：</tspan></text>
<text class="t" x="327" y="3300.4"><tspan x="327">1、思想上：积极上进，酷爱社会主义祖国，</tspan><tspan x="327" dy="15.2">拥戴中国共x产x党的领导，关心国事，关注</tspan><tspan x="327" dy="15.2">身边小事;积极参与学校组织的各项团员活动</tspan><tspan x="327" dy="15.2">，在活动中学习理论，在活动中实践理论，真</tspan><tspan x="327" dy="15.2">正做到学以致用;遵守学院各项规章制度，认</tspan><tspan x="327" dy="15.2">真学习《团的章程》，自觉履行团员的义务，</tspan><tspan x="327" dy="15.2">执行团的决议，遵守团的纪律，完成团组织交</tspan><tspan x="327" dy="15.2">给的任务，发挥团员的模范作用，尽到一个团</tspan><tspan x="327" dy="15.2">员应尽的责任。本人有良好道德修养，并有坚</tspan><tspan x="327" dy="15.2">定的政治方向，积极要求进步。</tspan></text>
<text class="t" x="327" y="3489.4"><tspan x="327">2、学习上：他始终坚持一句格言不放弃努力</tspan><tspan x="327" dy="15.2">本是我的任务，在现有的基础上争取再争取更</tspan><tspan x="327" dy="15.2">是我的职责。从进校以来学习一直未松懈，制</tspan><tspan x="327" dy="15.2">定科学的职业生涯规划，有明确的学习目标，</tspan><tspan x="327" dy="15.2">认真研究专业知识，刻苦学习，各科成绩都很</tspan><tspan x="327" dy="15.2">优秀。主动帮助其他同学，取长补短，到达共</tspan><tspan x="327" dy="15.2">同进步的目的。上课时认真听讲，做好笔记，</tspan><tspan x="327" dy="15.2">积极思考，并带动同学与老师之间的互动;课</tspan><tspan x="327" dy="15.2">后认真有效的完成各科老师布置的任务，并经</tspan><tspan x="327" dy="15.2">常通过各种途径浏览各类报刊杂志，陶冶自己</tspan><tspan x="327" dy="15.2">的情操，开阔自己的视野。</tspan></text>
<text class="t" x="327" y="3693.4"><tspan x="327">3、生活上：他积极与同学弄好关系，由于平</tspan><tspan x="327" dy="15.2">易近人、待人友好，所以一直以来与人相处甚</tspan><tspan x="327" dy="15.2">是xxx。他深入意想到弄好同学、朋友之间的</tspan><tspan x="327" dy="15.2">关系非常重要，这不但关系到生活能否过的充</tspan><tspan x="327" dy="15.2">实，更体现了一个人交际能力的好坏和个人素</tspan><tspan x="327" dy="15.2">质、品质的高低，所以他结交了很多朋友，与</tspan><tspan x="327" dy="15.2">朋友沟通。其次，他崇尚质朴的生活，并养成</tspan><tspan x="327" dy="15.2">良好的生活习惯和正直的作风，公道利用自己</tspan><tspan x="327" dy="15.2">的生活费，他深知金钱的来之不轻易，从稳定</tspan><tspan x="327" dy="15.2">花一分钱。在不影响学习的条件下寻觅能够进</tspan><tspan x="327" dy="15.2">步自己能力并在一定程度上取得金钱回报的兼</tspan><tspan x="327" dy="15.2">职工作，不但锻炼了自己，也减轻了家里的负</tspan><tspan x="327" dy="15.2">担。另外，他对时间观念性十分重视，公道安</tspan><tspan x="327" dy="15.2">排好工作、学习、读书、锻炼身体及文娱等的</tspan><tspan x="327" dy="15.2">时间。最重要的是，他相信：机遇总伴随着有</tspan><tspan x="327" dy="15.2">预备的人。因此他时时刻刻进步自己的素质以</tspan><tspan x="327" dy="15.2">迎接挑战!</tspan></text>
<text class="t" x="327" y="4121.4"><tspan x="327">4、工作上：作为xx外贸职业学院国际学院学</tspan><tspan x="327" dy="15.2">生会主席兼团总支副书记，他一直恪尽职守、</tspan><tspan x="327" dy="15.2">以身作则，策划组织并参加了一系列活动。2</tspan><tspan x="327" dy="15.2">0xx年他协助国际学院英语口语模仿比赛的展</tspan><tspan x="327" dy="15.2">开，并参与其间荣获二等奖;20xx年4月参加</tspan><tspan x="327" dy="15.2">外贸职业学院主办、国际学院承办的世界地球</tspan><tspan x="327" dy="15.2">日志愿者活动;20xx年组织策划圣诞晚会并取</tspan><tspan x="327" dy="15.2">得美满成功，得到学院领导与老师的一致好评</tspan><tspan x="327" dy="15.2">;20xx年3月组织班级同学去 石燕湖并参加小</tspan><tspan x="327" dy="15.2">型的素质拓展活动;20xx年7月因在党校培训</tspan><tspan x="327" dy="15.2">班表现出色取得优秀学员称号;20xx年9月荣</tspan><tspan x="327" dy="15.2">获国际学院英语风采大赛三等奖;20xx年11月</tspan><tspan x="327" dy="15.2">在院党知识抢答赛中带领组员荣获一等奖;20</tspan><tspan x="327" dy="15.2">xx年组织班级羽毛球比赛，并配合学生会体</tspan><tspan x="327" dy="15.2">育部举行趣味运动会20xx年4月参加国际学院</tspan><tspan x="327" dy="15.2">户外素质拓展活动，在活动中担负组长并带领</tspan><tspan x="327" dy="15.2">50人团队以14分27秒的佳绩翻越4米高的逃</tspan><tspan x="327" dy="15.2">生墙(此项目无任何保护措施)。他深入熟悉到</tspan><tspan x="327" dy="15.2">：共青团作为共x产x党的后备主力军，有着</tspan><tspan x="327" dy="15.2">不可替换的作用。作为共青团中的一员，他感</tspan><tspan x="327" dy="15.2">觉非常自豪，时刻不忘团员的职责，严格遵守</tspan><tspan x="327" dy="15.2">团员的守则，继续党的先进性，具有高尚的人</tspan><tspan x="327" dy="15.2">品和情操。他积极参加团委组织的各项活动，</tspan><tspan x="327" dy="15.2">在活动中认真学习和思考，不断进步自己各方</tspan><tspan x="327" dy="15.2">面的能力和素质，争做社会主义事业的合格</tspan><tspan x="327" dy="15.2">xxx人。</tspan></text>
<text class="t" x="56" y="3987.4"><tspan x="56">通过团组织的悉心培养和自己的努力他取得了</tspan><tspan x="56" dy="15.2">一定的成绩，但他以为这点成绩还是远远不够</tspan><tspan x="56" dy="15.2">的。在今后的工作中他还需严格要求自己，戒</tspan><tspan x="56" dy="15.2">骄戒躁，努力改正自己的缺点，始终保持团组</tspan><tspan x="56" dy="15.2">织的先锋模范作用，脚踏实地、积极进取、不</tspan><tspan x="56" dy="15.2">断创新、奉献自己，用为人民服务的精神鞭策</tspan><tspan x="56" dy="15.2">自己在各项工作中取得新的成绩。</tspan></text>
<text class="t" x="56" y="4130.4"><tspan x="56">他觉得这些成绩除自己的付出外，更多的是来</tspan><tspan x="56" dy="15.2">自老师对他的信任，同学们对他的支持。他很</tspan><tspan x="56" dy="15.2">感激大家给他一个自我完善的机会，让他在大</tspan><tspan x="56" dy="15.2">学实现了自我价值。</tspan></text>
<text class="t" x="56" y="4228.4"><tspan x="56">今后他仍会坚守自己的岗位，脚踏实地，在政</tspan><tspan x="56" dy="15.2">治上求先进，在学习上求优秀，在活动中求积</tspan><tspan x="56" dy="15.2">极，在工作中秋创新，认真努力地做好团组织</tspan><tspan x="56" dy="15.2">交给的每件事，不孤负团组织和广大师生对他</tspan><tspan x="56" dy="15.2">的期望!他相信：勇于拼搏、吃苦刻苦将伴随</tspan><tspan x="56" dy="15.2">他迎接未来新挑战!</tspan></text>
<text class="t" x="56" y="4356.4"><tspan x="56">优秀团员事迹材料1500字二：优秀团员事迹</tspan><tspan x="56" dy="15.2">材料</tspan></text>
<text class="t" x="56" y="4423.4"><tspan x="56">走进xxx单位化验室，你一眼就能看到一位身</tspan><tspan x="56" dy="15.2">着白大褂、个高清瘦戴副眼镜的西北小姑娘，</tspan><tspan x="56" dy="15.2">她就是现在化验室五班班员xxx。</tspan></text>
<text class="t" x="56" y="4507.4"><tspan x="56">xxx同志，xxxx年xx月出生在xxxx，xxxx年毕</tspan><tspan x="56" dy="15.2">业于xx学院xx专业，同年xx月加入到xx单位</tspan><tspan x="56" dy="15.2">这个大家庭当中。自入厂以来她在化验室油品</tspan><tspan x="56" dy="15.2">分析这个平凡的岗位上，脚踏实地、尽职尽责</tspan><tspan x="56" dy="15.2">并虚心请教各位师傅、师兄师姐们的工作方法</tspan><tspan x="56" dy="15.2">和经验，用心记录下师傅们的每一个做样流程</tspan><tspan x="56" dy="15.2">与分析数据，通过自己的不懈努力，在较短的</tspan><tspan x="56" dy="15.2">时间内掌握了油品分析知识，并能独立上岗作</tspan><tspan x="56" dy="15.2">业。在单位工作期间，她严格要求自己，注重</tspan><tspan x="56" dy="15.2">综合素质的提高，严格遵守厂部的各项规章制</tspan><tspan x="56" dy="15.2">度，在思想、学习、工作等方面均取得了较大</tspan><tspan x="56" dy="15.2">的进展。</tspan></text>
</g>

<g id="watermark">
<text class="wm" transform="translate(350,710) rotate(-32)">树图 shutu.cn</text>
<text class="wm" transform="translate(1640,700) rotate(-32)">树图 shutu.cn</text>
<text class="wm" transform="translate(345,1740) rotate(-32)">树图 shutu.cn</text>
<text class="wm" transform="translate(1645,1720) rotate(-32)">树图 shutu.cn</text>
<text class="wm" transform="translate(345,2715) rotate(-32)">树图 shutu.cn</text>
<text class="wm" transform="translate(1630,2705) rotate(-32)">树图 shutu.cn</text>
<text class="wm" transform="translate(345,3735) rotate(-32)">树图 shutu.cn</text>
<text class="wm" transform="translate(1635,3690) rotate(-32)">树图 shutu.cn</text>
<text class="wm" transform="translate(350,4680) rotate(-32)">树图 shutu.cn</text>
<text class="wm" transform="translate(1630,4680) rotate(-32)">树图 shutu.cn</text>
</g>
</g>
</svg>
